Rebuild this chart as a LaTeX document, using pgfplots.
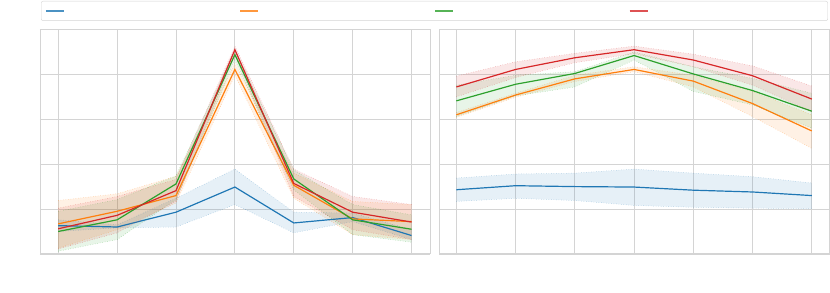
\documentclass[border=0pt]{standalone}
\usepackage{pgfplots}
\pgfplotsset{compat=1.18}
\usepackage{pgfplotstable}
\usepgfplotslibrary{fillbetween}
\definecolor{tblue}{HTML}{1F77B4}
\definecolor{torange}{HTML}{FF7F0E}
\definecolor{tgreen}{HTML}{2CA02C}
\definecolor{tred}{HTML}{D62728}
\definecolor{gridc}{HTML}{D4D4D4}

\pgfplotstableread{
x b bl bu o ol ou g gl gu r rl ru
0 -0.37 -0.50 -0.24 -0.33 -0.87 0.19 -0.50 -0.94 -0.05 -0.44 -0.89 0.02
1 -0.40 -0.42 -0.35 -0.05 -0.46 0.34 -0.24 -0.68 0.21 -0.14 -0.53 0.28
2 -0.07 -0.40 0.24 0.30 0.13 0.73 0.56 0.21 0.74 0.41 0.17 0.66
3 0.49 0.10 0.89 3.11 2.98 3.24 3.44 3.32 3.54 3.55 3.46 3.63
4 -0.31 -0.53 -0.07 0.53 0.24 0.80 0.67 0.43 0.87 0.57 0.28 0.89
5 -0.19 -0.28 -0.09 -0.22 -0.57 0.17 -0.24 -0.57 0.10 -0.07 -0.46 0.28
6 -0.59 -0.68 -0.46 -0.28 -0.68 0.10 -0.45 -0.74 -0.13 -0.29 -0.68 0.10
}\lefttab

\pgfplotstableread{
x b bl bu o ol ou g gl gu r rl ru
0 0.43 0.17 0.69 2.10 2.04 2.15 2.41 2.06 2.76 2.72 2.50 2.96
1 0.52 0.24 0.78 2.54 2.49 2.58 2.78 2.52 2.98 3.11 2.93 3.28
2 0.50 0.19 0.80 2.90 2.84 2.98 3.02 2.72 3.06 3.37 3.26 3.47
3 0.49 0.08 0.89 3.11 3.06 3.17 3.42 3.32 3.50 3.55 3.46 3.63
4 0.42 0.04 0.80 2.85 2.72 2.98 3.01 2.62 3.17 3.32 3.17 3.45
5 0.38 0.02 0.72 2.35 2.06 2.62 2.64 2.32 2.91 2.97 2.76 3.19
6 0.30 0.01 0.58 1.74 1.35 2.10 2.18 1.80 2.58 2.45 2.17 2.74
}\righttab

\pgfplotsset{
  panel/.style={
    scale only axis, width=390.5pt, height=224.5pt,
    anchor=south west,
    xmin=-0.31, xmax=6.32, ymin=-1, ymax=4,
    xtick={0,...,6}, ytick={-1,...,4},
    xticklabels={}, yticklabels={},
    major tick length=0pt,
    grid=major,
    grid style={gridc, line width=0.8pt},
    axis line style={gridc, line width=0.9pt},
  },
  band/.style={forget plot, #1, dotted, line width=0.5pt, draw opacity=0.45},
  ln/.style={#1, line width=1.2pt},
}

\newcommand{\series}[5]{% table, mid, low, up, color
  \addplot[band=#5, name path=U#2] table[x=x,y=#4] {#1};
  \addplot[band=#5, name path=L#2] table[x=x,y=#3] {#1};
  \addplot[forget plot, fill=#5, fill opacity=0.11, draw=none] fill between[of=U#2 and L#2];
  \addplot[ln=#5] table[x=x,y=#2] {#1};
}

\begin{document}
\begin{tikzpicture}
\begin{axis}[panel, at={(40pt,39pt)},
  legend columns=4,
  legend image code/.code={\draw[#1, line width=1.2pt, draw opacity=0.8] (0pt,0pt) -- (18pt,0pt);},
  legend style={at={(0.0026,1.127)}, anchor=north west, draw=gridc, rounded corners=2pt,
    inner xsep=4pt, inner ysep=2pt, nodes={inner sep=2pt}, font=\tiny},
]
\series{\lefttab}{b}{bl}{bu}{tblue}
\addlegendentry{\rule{0pt}{10pt}\hspace*{171.5pt}}
\series{\lefttab}{o}{ol}{ou}{torange}
\addlegendentry{\rule{0pt}{10pt}\hspace*{171.5pt}}
\series{\lefttab}{g}{gl}{gu}{tgreen}
\addlegendentry{\rule{0pt}{10pt}\hspace*{171.5pt}}
\series{\lefttab}{r}{rl}{ru}{tred}
\addlegendentry{\rule{0pt}{10pt}\hspace*{171.5pt}}
\end{axis}
\begin{axis}[panel, at={(439.3pt,39pt)}, xmin=-0.29, xmax=6.30]
\series{\righttab}{b}{bl}{bu}{tblue}
\series{\righttab}{o}{ol}{ou}{torange}
\series{\righttab}{g}{gl}{gu}{tgreen}
\series{\righttab}{r}{rl}{ru}{tred}
\end{axis}
\path (0pt,0pt) rectangle (830pt,293pt);
\end{tikzpicture}
\end{document}
